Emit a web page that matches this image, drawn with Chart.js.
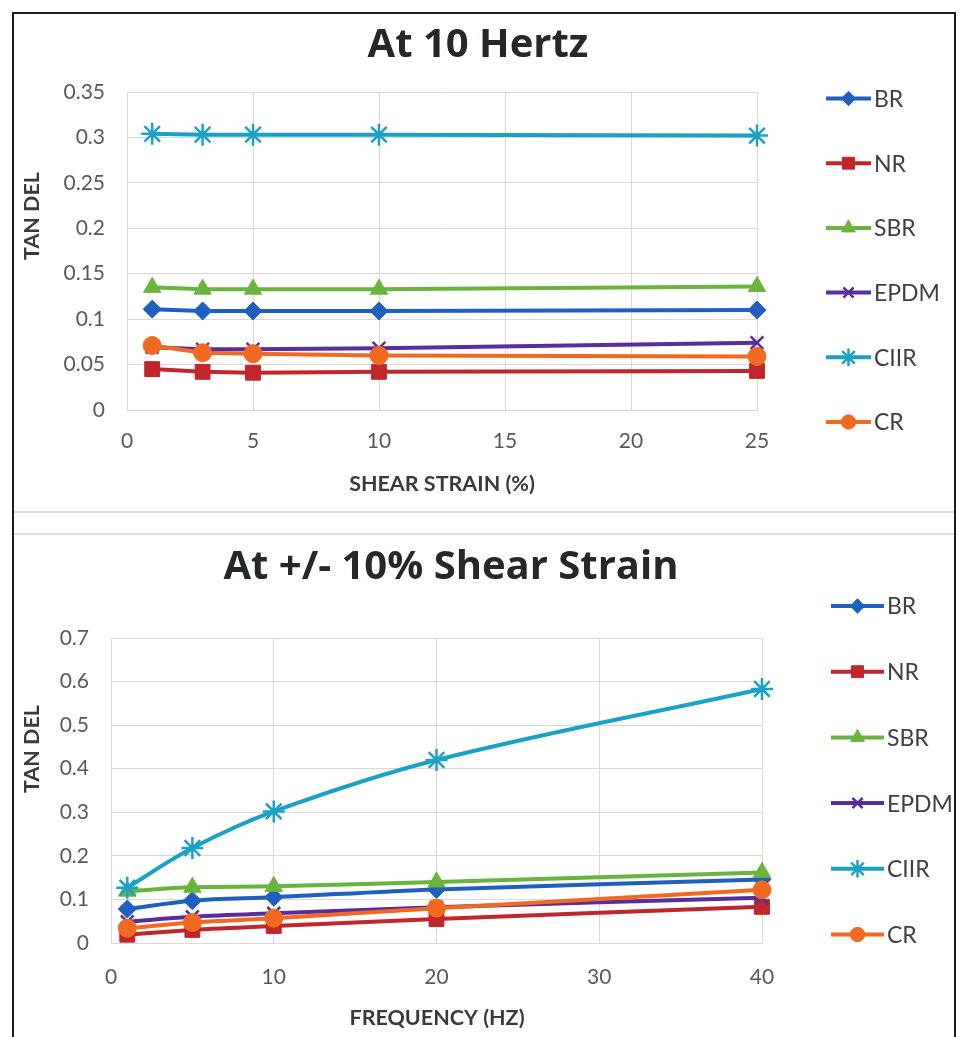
<!DOCTYPE html>
<html>
<head>
<meta charset="utf-8">
<script src="https://cdn.jsdelivr.net/npm/chart.js@4.4.1/dist/chart.umd.min.js"></script>
<style>
  html, body { margin: 0; padding: 0; background: #ffffff; }
  body { width: 960px; height: 1037px; position: relative; overflow: hidden; }
  canvas { position: absolute; left: 0; }
  #frame { position: absolute; left: 12px; top: 12px; width: 944px; height: 1060px;
           box-sizing: border-box; border: 2px solid #1c1c1c; border-bottom: none; pointer-events: none; }
  .sep { position: absolute; left: 14px; width: 940px; height: 2px; background: #dedede; }
</style>
</head>
<body>
<canvas id="strainChart" width="960" height="512" style="top:0px"></canvas>
<canvas id="freqChart" width="960" height="525" style="top:512px"></canvas>
<div class="sep" style="top:511px"></div>
<div class="sep" style="top:533px"></div>
<div id="frame"></div>

<script>
// ---- data: tan delta of six rubbers ----
const seriesNames = ['BR', 'NR', 'SBR', 'EPDM', 'CIIR', 'CR'];

// at 10 Hz, versus shear strain (%)
const strainPct  = [1, 3, 5, 10, 25];
const strainBR   = [0.111, 0.109, 0.109, 0.109, 0.110];
const strainNR   = [0.045, 0.042, 0.041, 0.042, 0.043];
const strainSBR  = [0.135, 0.133, 0.133, 0.133, 0.136];
const strainEPDM = [0.069, 0.067, 0.067, 0.068, 0.074];
const strainCIIR = [0.304, 0.303, 0.303, 0.303, 0.302];
const strainCR   = [0.071, 0.063, 0.062, 0.060, 0.059];
const strainXTicks = [0, 5, 10, 15, 20, 25];
const strainYTicks = [0, 0.05, 0.1, 0.15, 0.2, 0.25, 0.3, 0.35];

// at +/- 10% shear strain, versus frequency (Hz)
const freqHz   = [1, 5, 10, 20, 40];
const freqBR   = [0.078, 0.097, 0.105, 0.123, 0.146];
const freqNR   = [0.019, 0.030, 0.039, 0.055, 0.083];
const freqSBR  = [0.119, 0.128, 0.130, 0.140, 0.162];
const freqEPDM = [0.049, 0.060, 0.068, 0.082, 0.104];
const freqCIIR = [0.127, 0.218, 0.302, 0.420, 0.583];
const freqCR   = [0.034, 0.047, 0.057, 0.080, 0.122];
const freqXTicks = [0, 10, 20, 30, 40];
const freqYTicks = [0, 0.1, 0.2, 0.3, 0.4, 0.5, 0.6, 0.7];

// ---- styling per rubber ----
const seriesStyle = {
  BR:   { color: '#1f5fbf', point: 'rectRot',  radius: 9,  border: 1 },
  NR:   { color: '#c0262c', point: 'rect',     radius: 10.5, border: 1 },
  SBR:  { color: '#6ab33e', point: 'triangle', radius: 10, border: 1 },
  EPDM: { color: '#5a2d9c', point: 'crossRot', radius: 9,  border: 2.5 },
  CIIR: { color: '#1ba1c6', point: 'star',     radius: 11, border: 2.5 },
  CR:   { color: '#f26a22', point: 'circle',   radius: 9,  border: 1 }
};

Chart.defaults.font.family = 'Lato, "Liberation Sans", sans-serif';

function makeDatasets(xs, seriesValues, tension) {
  return seriesNames.map((name, i) => {
    const st = seriesStyle[name];
    return {
      label: name,
      data: xs.map((x, j) => ({ x: x, y: seriesValues[i][j] })),
      borderColor: st.color,
      backgroundColor: st.color,
      borderWidth: 4,
      pointStyle: st.point,
      pointRadius: st.radius,
      pointHoverRadius: st.radius,
      pointBackgroundColor: st.color,
      pointBorderColor: st.color,
      pointBorderWidth: st.border,
      tension: tension,
      clip: false,
      order: seriesNames.length - i
    };
  });
}

// titles, axis titles and line+marker legend drawn on the chart canvas
const decorPlugin = {
  id: 'decor',
  afterDraw(chart, args, o) {
    const ctx = chart.ctx;
    ctx.save();
    ctx.textBaseline = 'middle';

    ctx.fillStyle = '#242828';
    ctx.font = 'bold 40px "Open Sans", Lato, sans-serif';
    ctx.textAlign = 'center';
    ctx.fillText(o.title, o.titleX, o.titleY);

    ctx.fillStyle = '#3a3a3a';
    ctx.font = 'bold 21.5px Lato, sans-serif';
    ctx.fillText(o.xTitle, o.xTitleX, o.xTitleY);

    ctx.save();
    ctx.translate(o.yTitleX, o.yTitleY);
    ctx.rotate(-Math.PI / 2);
    ctx.fillText(o.yTitle, 0, 0);
    ctx.restore();

    chart.data.datasets.forEach((ds, i) => {
      const y = o.legendY + i * o.legendStep;
      ctx.strokeStyle = ds.borderColor;
      ctx.lineWidth = 4;
      ctx.beginPath();
      ctx.moveTo(o.legendX0, y);
      ctx.lineTo(o.legendX1, y);
      ctx.stroke();
      ctx.fillStyle = ds.pointBackgroundColor;
      ctx.strokeStyle = ds.pointBorderColor;
      ctx.lineWidth = ds.pointBorderWidth;
      Chart.helpers.drawPoint(ctx, {
        pointStyle: ds.pointStyle,
        radius: ds.pointRadius * 0.8,
        rotation: 0,
        borderWidth: ds.pointBorderWidth
      }, (o.legendX0 + o.legendX1) / 2, y);
      ctx.fillStyle = '#404040';
      ctx.font = '23px Lato, sans-serif';
      ctx.textAlign = 'left';
      ctx.fillText(ds.label, o.legendX1 + 3, y + 1);
    });
    ctx.restore();
  }
};

function makeChart(canvasId, xs, seriesValues, xTicks, yTicks, tension, frame) {
  const gridColor = '#d9d9d9';
  return new Chart(document.getElementById(canvasId), {
    type: 'line',
    data: { datasets: makeDatasets(xs, seriesValues, tension) },
    options: {
      responsive: false,
      animation: false,
      events: [],
      layout: { padding: { left: 0, top: frame.top, right: frame.right, bottom: 0 } },
      plugins: {
        legend: { display: false },
        title: { display: false },
        tooltip: { enabled: false },
        decor: frame.decor
      },
      scales: {
        x: {
          type: 'linear',
          min: xTicks[0],
          max: xTicks[xTicks.length - 1],
          afterBuildTicks: (s) => { s.ticks = xTicks.map(v => ({ value: v })); },
          afterFit: (s) => { s.height = frame.xAxisHeight; },
          grid: { color: gridColor, lineWidth: 1, drawTicks: false },
          border: { color: gridColor, width: 1 },
          ticks: { color: '#595959', font: { size: 21 }, padding: frame.xTickPad,
                   maxRotation: 0, autoSkip: false, callback: (v) => String(v) }
        },
        y: {
          type: 'linear',
          min: yTicks[0],
          max: yTicks[yTicks.length - 1],
          afterBuildTicks: (s) => { s.ticks = yTicks.map(v => ({ value: v })); },
          afterFit: (s) => { s.width = frame.yAxisWidth; },
          grid: { color: gridColor, lineWidth: 1, drawTicks: false },
          border: { color: gridColor, width: 1 },
          ticks: { color: '#595959', font: { size: 21 }, padding: 22,
                   autoSkip: false, callback: (v) => String(v) }
        }
      }
    },
    plugins: [decorPlugin]
  });
}

makeChart('strainChart', strainPct,
  [strainBR, strainNR, strainSBR, strainEPDM, strainCIIR, strainCR],
  strainXTicks, strainYTicks, 0,
  {
    top: 92, right: 203, yAxisWidth: 127, xAxisHeight: 102, xTickPad: 19,
    decor: {
      title: 'At 10 Hertz', titleX: 478, titleY: 46,
      xTitle: 'SHEAR STRAIN (%)', xTitleX: 442, xTitleY: 484,
      yTitle: 'TAN DEL', yTitleX: 32, yTitleY: 216,
      legendX0: 826, legendX1: 871, legendY: 98.5, legendStep: 64.7
    }
  });

makeChart('freqChart', freqHz,
  [freqBR, freqNR, freqSBR, freqEPDM, freqCIIR, freqCR],
  freqXTicks, freqYTicks, 0.35,
  {
    top: 126, right: 198, yAxisWidth: 111, xAxisHeight: 94, xTickPad: 22,
    decor: {
      title: 'At +/- 10% Shear Strain', titleX: 451, titleY: 56,
      xTitle: 'FREQUENCY (HZ)', xTitleX: 437, xTitleY: 506,
      yTitle: 'TAN DEL', yTitleX: 32, yTitleY: 237,
      legendX0: 831, legendX1: 884, legendY: 94, legendStep: 65.7
    }
  });
</script>
</body>
</html>
